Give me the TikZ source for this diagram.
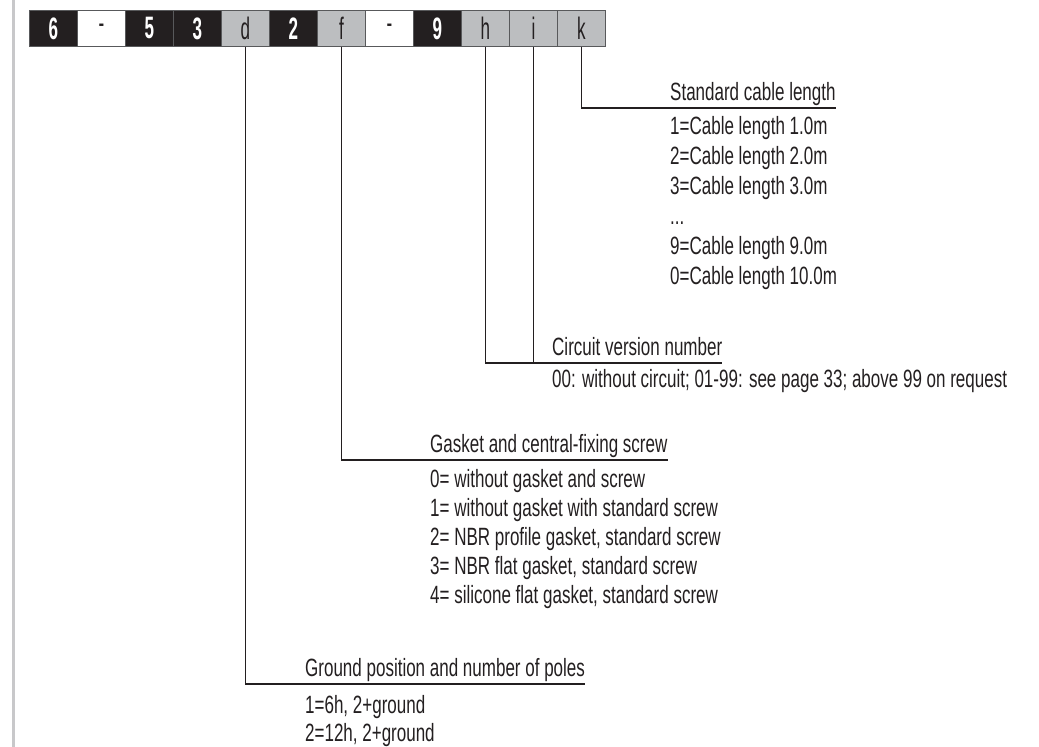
\documentclass[tikz,border=0pt]{standalone}
\usepackage{fontspec}
\setmainfont{Liberation Sans}[FakeStretch=0.68]
\newfontfamily\cellfont{Liberation Sans}[FakeStretch=0.55]
\definecolor{ink}{HTML}{231F20}
\definecolor{cellgray}{HTML}{BCBEC0}
\definecolor{cellline}{HTML}{58595B}
\definecolor{leftgray}{HTML}{C8C8CA}
\begin{document}
\begin{tikzpicture}[x=1pt,y=-1pt,
  cell/.style={draw=cellline, line width=0.8pt, minimum width=48pt, minimum height=36pt, inner sep=0pt, anchor=north west},
  blk/.style={cell, fill=ink, text=white, font=\cellfont\fontsize{31}{31}\selectfont\bfseries},
  gry/.style={cell, fill=cellgray, text=ink, font=\cellfont\fontsize{31}{31}\selectfont},
  wht/.style={cell, fill=white, text=ink, font=\cellfont\fontsize{31}{31}\selectfont},
  lbl/.style={anchor=base west, inner sep=0pt, text=ink, font=\fontsize{25}{25}\selectfont},
  conn/.style={draw=ink, line width=1.3pt}]
\useasboundingbox (0,0) rectangle (1039,747);
\fill[leftgray] (11.5,0) rectangle (14.5,747);
% code cells
\node[blk] (c1)  at (29,10)  {6};
\node[wht] (c2)  at (77,10)  {-};
\node[blk] (c3)  at (125,10) {5};
\node[blk] (c4)  at (173,10) {3};
\node[gry] (c5)  at (221,10) {d};
\node[blk] (c6)  at (269,10) {2};
\node[gry] (c7)  at (317,10) {f};
\node[wht] (c8)  at (365,10) {-};
\node[blk] (c9)  at (413,10) {9};
\node[gry] (c10) at (461,10) {h};
\node[gry] (c11) at (509,10) {i};
\node[gry] (c12) at (557,10) {k};
% Standard cable length
\node[lbl] (tk) at (670,100) {Standard cable length};
\node[lbl] (k1) at (670,134) {1=Cable length 1.0m};
\node[lbl] (k2) at (670,164) {2=Cable length 2.0m};
\node[lbl] (k3) at (670,194) {3=Cable length 3.0m};
\node[lbl] (k4) at (670,224) {...};
\node[lbl] (k5) at (670,254) {9=Cable length 9.0m};
\node[lbl] (k6) at (670,284) {0=Cable length 10.0m};
% Circuit version
\node[lbl] (tc) at (552,355) {Circuit version number};
\node[lbl] (h1) at (552,387) {00: without circuit; 01-99: see page 33; above 99 on request};
% Gasket
\node[lbl] (tf) at (430,452) {Gasket and central-fixing screw};
\node[lbl] (f1) at (430,487) {0= without gasket and screw};
\node[lbl] (f2) at (430,516) {1= without gasket with standard screw};
\node[lbl] (f3) at (430,545) {2= NBR profile gasket, standard screw};
\node[lbl] (f4) at (430,574) {3= NBR flat gasket, standard screw};
\node[lbl] (f5) at (430,603) {4= silicone flat gasket, standard screw};
% Ground
\node[lbl] (td) at (305,676) {Ground position and number of poles};
\node[lbl] (d1) at (305,713) {1=6h, 2+ground};
\node[lbl] (d2) at (305,741) {2=12h, 2+ground};
% connectors
\coordinate (ke) at ([yshift=-8pt]tk.base east);
\coordinate (he) at ([yshift=-8pt]tc.base east);
\coordinate (fe) at ([yshift=-8pt]tf.base east);
\coordinate (de) at ([yshift=-8pt]td.base east);
\draw[conn] (c12.south) |- (ke);
\draw[conn] (c10.south) |- (he);
\draw[conn] (c11.south) -- (c11.south |- he);
\draw[conn] (c7.south) |- (fe);
\draw[conn] (c5.south) |- (de);
\end{tikzpicture}
\end{document}
